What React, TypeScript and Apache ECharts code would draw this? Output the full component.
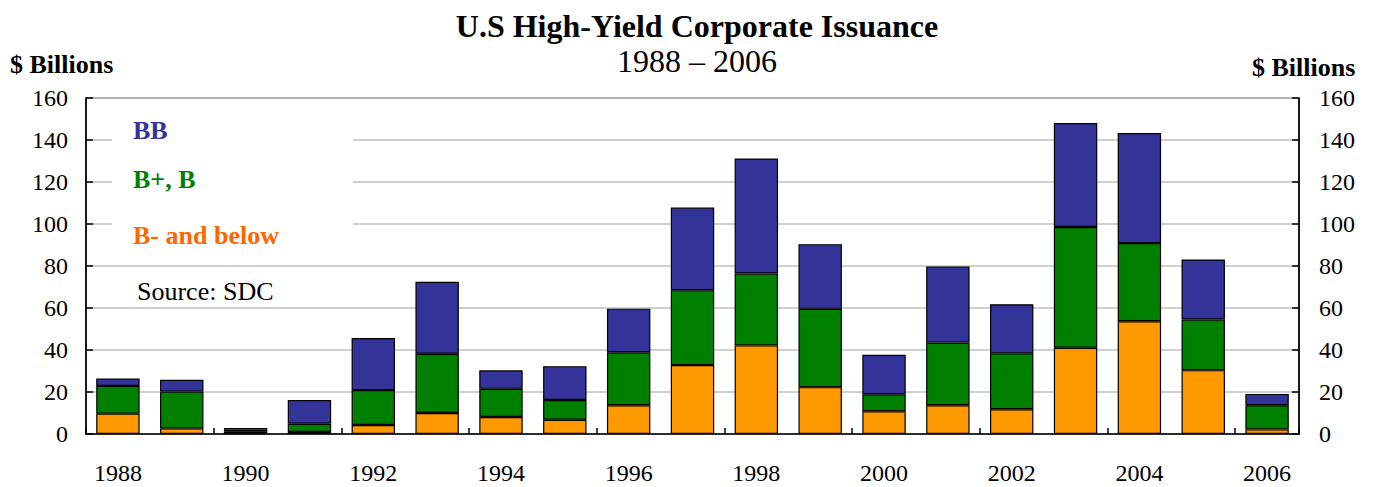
import React, { useEffect, useRef } from "react";
import * as echarts from "echarts";

const years = ["1988","1989","1990","1991","1992","1993","1994","1995","1996","1997","1998","1999","2000","2001","2002","2003","2004","2005","2006"];
const bMinusBelow = [9.7, 2.7, 0.4, 1.0, 4.3, 10.0, 8.1, 6.8, 13.7, 32.8, 42.2, 22.3, 10.8, 13.7, 11.8, 41.1, 53.7, 30.4, 2.2];
const bPlusB = [13.2, 17.5, 0.9, 3.9, 16.6, 28.2, 13.4, 9.4, 25.2, 35.7, 34.2, 37.3, 8.1, 29.9, 26.6, 57.5, 37.2, 24.1, 11.5];
const bb = [3.5, 5.6, 1.6, 11.3, 24.8, 34.3, 8.8, 16.1, 20.8, 39.3, 54.8, 30.8, 18.8, 36.2, 23.4, 49.5, 52.4, 28.6, 5.4];
const seriesNames = ["B- and below", "B+, B", "BB"];
const yMin = 0, yMax = 160, yStep = 20;

const FONT = "'Liberation Serif', 'Times New Roman', serif";

export default function App() {
  const ref = useRef<HTMLDivElement>(null);
  useEffect(() => {
    document.body.style.margin = "0";
    const chart = echarts.init(ref.current!, null, { renderer: "svg" });
    const barStyle = (c: string) => ({ color: c, borderColor: "#000", borderWidth: 1.2 });
    const axisLabel = { color: "#000", fontFamily: FONT, fontSize: 24 };
    chart.setOption({
      animation: false,
      backgroundColor: "#fff",
      title: {
        text: "U.S High-Yield Corporate Issuance",
        subtext: "1988 – 2006",
        left: 692,
        top: 5,
        textAlign: "center",
        itemGap: 3,
        textStyle: { fontFamily: FONT, fontSize: 32, fontWeight: "bold", color: "#000" },
        subtextStyle: { fontFamily: FONT, fontSize: 32, color: "#000" },
      },
      grid: { left: 86, right: 74, top: 98, bottom: 53, show: true, borderColor: "#000", borderWidth: 1.2, backgroundColor: "transparent" },
      xAxis: {
        type: "category",
        data: years,
        boundaryGap: true,
        axisLine: { lineStyle: { color: "#000", width: 1.5 } },
        axisTick: { show: true, inside: true, interval: 1, length: 6, lineStyle: { color: "#000", width: 1.5 } },
        axisLabel: { ...axisLabel, interval: 1, margin: 27 },
      },
      yAxis: [
        {
          type: "value", min: yMin, max: yMax, interval: yStep, position: "left",
          axisLine: { show: true, lineStyle: { color: "#000", width: 1.5 } },
          axisTick: { show: true, inside: true, length: 7, lineStyle: { color: "#000", width: 1.5 } },
          axisLabel: { ...axisLabel, margin: 18 },
          splitLine: { show: true, lineStyle: { color: "#c0c0c0", width: 1.5 } },
        },
        {
          type: "value", min: yMin, max: yMax, interval: yStep, position: "right",
          axisLine: { show: true, lineStyle: { color: "#000", width: 1.5 } },
          axisTick: { show: true, inside: true, length: 7, lineStyle: { color: "#000", width: 1.5 } },
          axisLabel: { ...axisLabel, margin: 20 },
          splitLine: { show: false },
        },
      ],
      series: [
        { name: seriesNames[0], type: "bar", stack: "t", data: bMinusBelow, barWidth: "68%", itemStyle: barStyle("#FF9900"), z: 3 },
        { name: seriesNames[1], type: "bar", stack: "t", data: bPlusB, barWidth: "68%", itemStyle: barStyle("#008000"), z: 3 },
        { name: seriesNames[2], type: "bar", stack: "t", data: bb, barWidth: "68%", itemStyle: barStyle("#333399"), z: 3 },
      ],
      graphic: [
        { type: "rect", z: 1, shape: { x: 112, y: 100, width: 241, height: 130 }, style: { fill: "#fff" } },
        { type: "text", z: 5, left: 10, top: 51, style: { text: "$ Billions", fontFamily: FONT, fontSize: 26, fontWeight: "bold", fill: "#000" } },
        { type: "text", z: 5, left: 1252, top: 54, style: { text: "$ Billions", fontFamily: FONT, fontSize: 26, fontWeight: "bold", fill: "#000" } },
        { type: "text", z: 5, left: 133, top: 117, style: { text: seriesNames[2], fontFamily: FONT, fontSize: 26, fontWeight: "bold", fill: "#333399" } },
        { type: "text", z: 5, left: 133, top: 166, style: { text: seriesNames[1], fontFamily: FONT, fontSize: 26, fontWeight: "bold", fill: "#008000" } },
        { type: "text", z: 5, left: 133, top: 222, style: { text: seriesNames[0], fontFamily: FONT, fontSize: 26, fontWeight: "bold", fill: "#FF6600" } },
        { type: "text", z: 5, left: 137, top: 278, style: { text: "Source: SDC", fontFamily: FONT, fontSize: 26, fill: "#000" } },
      ],
    });
    return () => chart.dispose();
  }, []);
  return <div ref={ref} style={{ width: 1373, height: 487, position: "absolute", left: 0, top: 0 }} />;
}
